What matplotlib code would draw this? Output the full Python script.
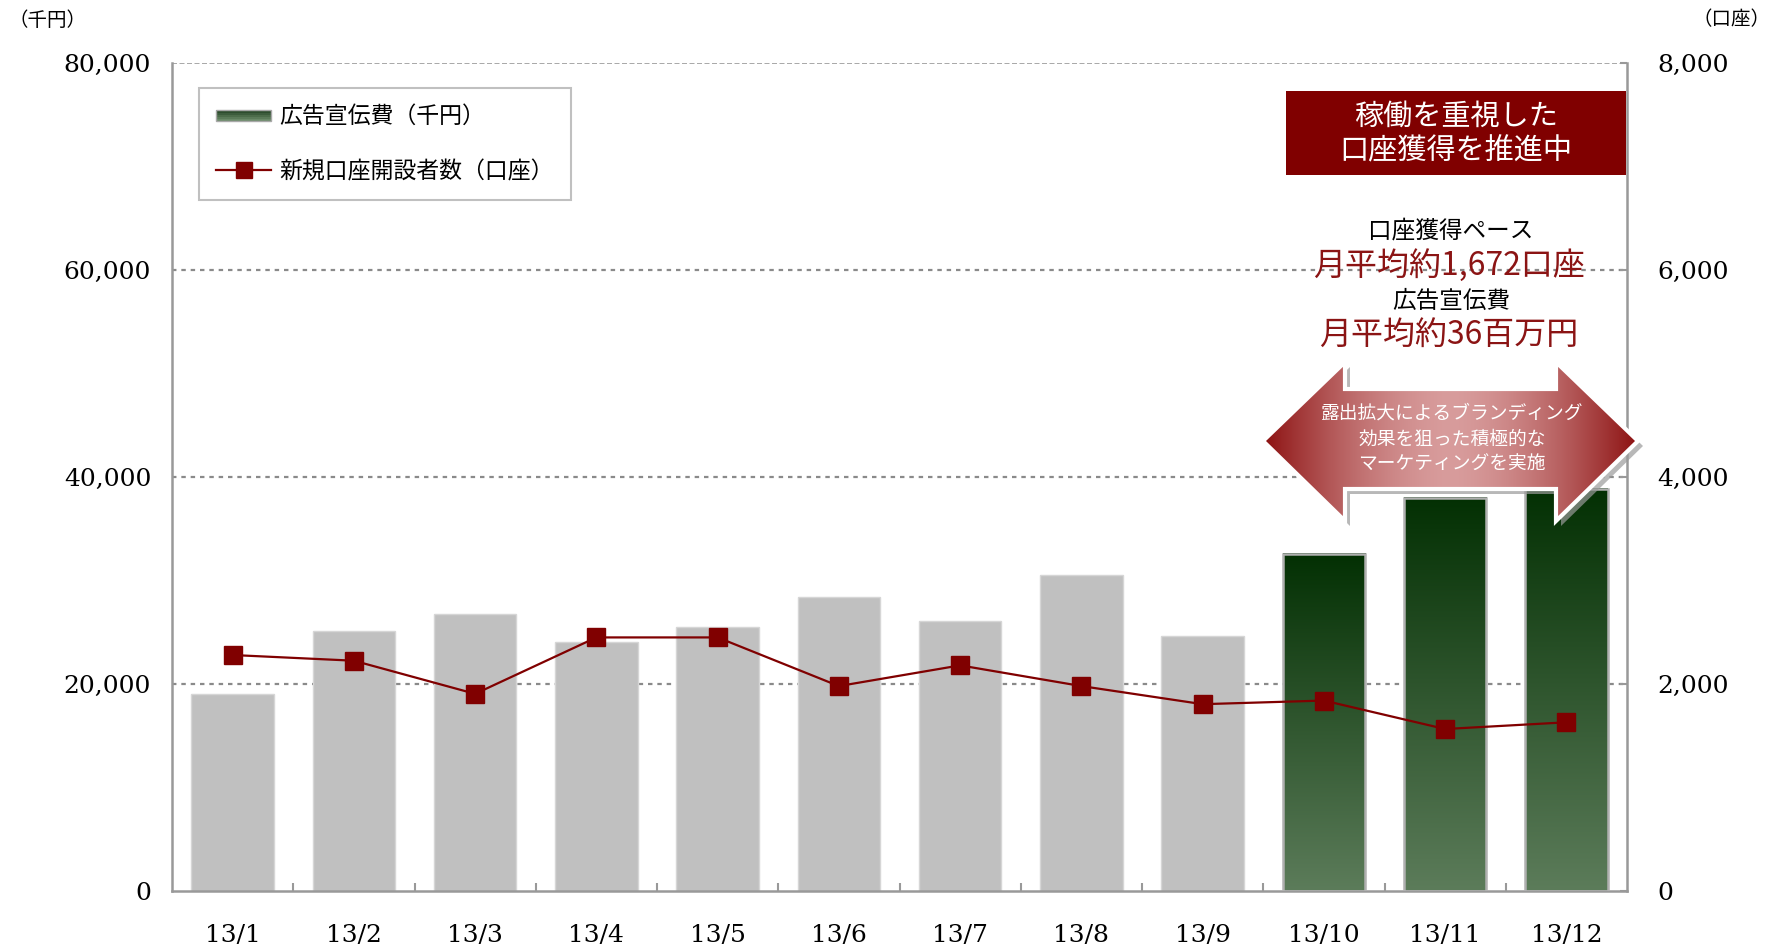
import numpy as np
import matplotlib
matplotlib.use("Agg")
import matplotlib.pyplot as plt
from matplotlib.patches import Rectangle, Polygon
from matplotlib.lines import Line2D
from matplotlib.legend_handler import HandlerBase
from matplotlib.colors import to_rgb
from matplotlib.ticker import FuncFormatter

# data
months = ["13/1", "13/2", "13/3", "13/4", "13/5", "13/6",
          "13/7", "13/8", "13/9", "13/10", "13/11", "13/12"]
ad_cost = [19000, 25100, 26800, 24100, 25500, 28450,
           26050, 30550, 24650, 32600, 38000, 38850]          # 千円
new_accounts = [2280, 2225, 1905, 2450, 2450, 1980,
                2180, 1980, 1805, 1840, 1565, 1630]           # 口座
highlight_from = 9   # 13/10 onwards drawn in green

left_ticks = [0, 20000, 40000, 60000, 80000]
right_ticks = [0, 2000, 4000, 6000, 8000]

CJK = ["Noto Sans CJK JP", "DejaVu Sans"]
plt.rcParams["font.family"] = ["DejaVu Serif"]

W, H = 1775, 950
GREEN_TOP, GREEN_BOT = "#033003", "#5c7c5a"
DARK_RED = "#800000"
TXT_RED = "#8b1414"


def vgrad(top, bottom, n=256):
    t = np.linspace(0, 1, n)[:, None, None]
    return (1 - t) * np.array(to_rgb(top)) + t * np.array(to_rgb(bottom))


class GradientPatchHandler(HandlerBase):
    def create_artists(self, legend, orig_handle, xdescent, ydescent,
                       width, height, fontsize, trans):
        arts = []
        n = 6
        cols = vgrad("#1e3e1e", "#6a8a68", n)[:, 0, :]
        h = height * 0.7
        y0 = -ydescent + (height - h) / 2
        for i in range(n):
            # i = 0 is the top stripe
            arts.append(Rectangle((-xdescent, y0 + h * (n - 1 - i) / n), width, h / n,
                                  facecolor=cols[i], edgecolor="none", transform=trans))
        arts.append(Rectangle((-xdescent, y0), width, h, facecolor="none",
                              edgecolor="#a8a8a8", lw=1, transform=trans))
        return arts


fig = plt.figure(figsize=(W / 100, H / 100), dpi=100)
ax = fig.add_axes([172 / W, 1 - 891 / H, 1455 / W, 828 / H])
x = np.arange(len(months))
bw = 0.68

# gridlines behind bars
for v in left_ticks[1:-1]:
    ax.axhline(v, color="#8a8a8a", lw=1.6, ls=(0, (2, 2.2)), zorder=1)
ax.axhline(left_ticks[-1], color="#9a9a9a", lw=1.2, ls=(0, (3, 1.5)), zorder=1)

for i, v in enumerate(ad_cost):
    if i < highlight_from:
        ax.bar(x[i], v, width=bw, color="#c0c0c0", edgecolor="#d6d6d6",
               lw=1, zorder=2)
    else:
        ax.imshow(vgrad(GREEN_TOP, GREEN_BOT), extent=(x[i] - bw / 2, x[i] + bw / 2, 0, v),
                  aspect="auto", zorder=2, interpolation="bilinear")
        ax.add_patch(Rectangle((x[i] - bw / 2, 0), bw, v, facecolor="none",
                               edgecolor="#b0b0b0", lw=1.8, zorder=3))

ax.set_xlim(-0.5, len(months) - 0.5)
ax.set_ylim(left_ticks[0], left_ticks[-1])
ax.set_yticks(left_ticks)
ax.yaxis.set_major_formatter(FuncFormatter(lambda v, p: f"{int(v):,}"))
ax.set_xticks(x)
ax.set_xticklabels(months)
ax.set_xticks(np.arange(0.5, len(months) - 1, 1), minor=True)
ax.tick_params(axis="x", which="major", length=0, pad=24, labelsize=18)
ax.tick_params(axis="x", which="minor", direction="in", length=6,
               color="#999999", width=1.5)
ax.tick_params(axis="y", length=0, pad=15, labelsize=18)
for s in ["top", "right"]:
    ax.spines[s].set_visible(False)
for s in ["left", "bottom"]:
    ax.spines[s].set_color("#999999")
    ax.spines[s].set_linewidth(1.8)

ax2 = ax.twinx()
ax2.plot(x, new_accounts, color=DARK_RED, lw=1.6, marker="s", markersize=13,
         markerfacecolor=DARK_RED, markeredgecolor=DARK_RED, zorder=5)
ax2.set_ylim(right_ticks[0], right_ticks[-1])
ax2.set_yticks(right_ticks)
ax2.yaxis.set_major_formatter(FuncFormatter(lambda v, p: f"{int(v):,}"))
ax2.tick_params(axis="y", direction="in", length=5, color="#999999",
                width=1.5, pad=22, labelsize=18)
for s in ["top", "left", "bottom"]:
    ax2.spines[s].set_visible(False)
ax2.spines["right"].set_color("#999999")
ax2.spines["right"].set_linewidth(1.8)

# legend
h_bar = Rectangle((0, 0), 1, 1)
h_line = Line2D([], [], color=DARK_RED, lw=1.6, marker="s", markersize=11)
leg = ax2.legend([h_bar, h_line], ["広告宣伝費（千円）", "新規口座開設者数（口座）"],
                 handler_map={Rectangle: GradientPatchHandler()},
                 loc="upper left", bbox_to_anchor=(27 / 1455, 1 - 25 / 828),
                 borderaxespad=0, prop={"family": CJK, "size": 16.5},
                 labelspacing=1.4, handlelength=2.4, handletextpad=0.35,
                 borderpad=0.75, fancybox=False, framealpha=1,
                 edgecolor="#c0c0c0")
leg.get_frame().set_linewidth(1.5)

# overlay in pixel coordinates for annotations
ov = fig.add_axes([0, 0, 1, 1], zorder=10)
ov.set_axis_off()

ov.text(8, 20, "（千円）", family=CJK, fontsize=14, ha="left", va="center")
ov.text(1770, 20, "（口座）", family=CJK, fontsize=14, ha="right", va="center")

ov.add_patch(Rectangle((1286, 91), 340, 84, facecolor=DARK_RED, edgecolor="none"))
ov.text(1456, 134, "稼働を重視した\n口座獲得を推進中", family=CJK, fontsize=21,
        color="white", ha="center", va="center", linespacing=1.2)

ov.text(1451, 231, "口座獲得ペース", family=CJK, fontsize=17, ha="center", va="center")
ov.text(1449, 265, "月平均約1,672口座", family=CJK, fontsize=23, color=TXT_RED,
        ha="center", va="center")
ov.text(1451, 301, "広告宣伝費", family=CJK, fontsize=17, ha="center", va="center")
ov.text(1449, 335, "月平均約36百万円", family=CJK, fontsize=23, color=TXT_RED,
        ha="center", va="center")

# double-headed arrow
arrow_pts = [(1263, 441), (1345, 362), (1345, 389), (1556, 389), (1556, 362),
             (1638, 441), (1556, 521), (1556, 489), (1345, 489), (1345, 521)]
shadow = Polygon([(px + 5, py + 5) for px, py in arrow_pts], closed=True,
                 facecolor="#9a9a9a", edgecolor="none", alpha=0.7)
ov.add_patch(shadow)
arrow = Polygon(arrow_pts, closed=True, facecolor="none", edgecolor="white", lw=3)
ov.add_patch(arrow)
t = np.linspace(-1, 1, 400)
wgt = np.abs(t) ** 1.6
edge_c = np.array(to_rgb("#8c1010"))
mid_c = np.array(to_rgb("#d89c9c"))
grad = (mid_c + (edge_c - mid_c) * wgt[:, None])[None, :, :]
im = ov.imshow(grad, extent=(1263, 1638, 521, 362), aspect="auto",
               interpolation="bilinear", zorder=1.5)
im.set_clip_path(arrow)
arrow.set_zorder(2)
ov.text(1452, 439, "露出拡大によるブランディング\n効果を狙った積極的な\nマーケティングを実施",
        family=CJK, fontsize=13.5, color="white", ha="center", va="center",
        linespacing=1.3, zorder=3)
ov.set_xlim(0, W)
ov.set_ylim(H, 0)

fig.savefig("out.png", dpi=100)
